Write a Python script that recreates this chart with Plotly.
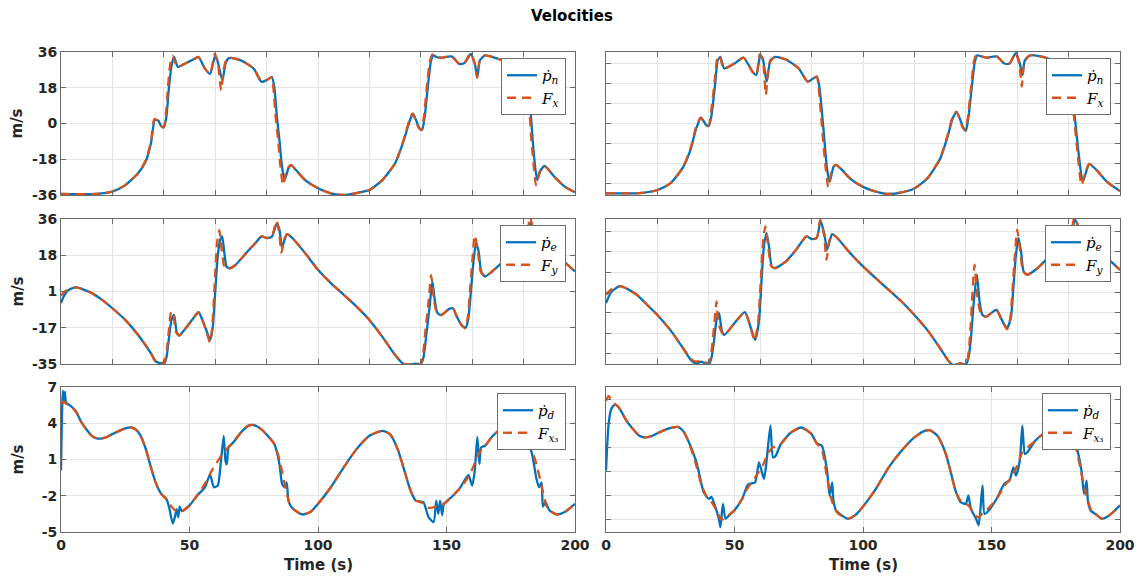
import plotly.graph_objects as go

PAGE_W, PAGE_H = 1143, 579
BODY_MARGIN = 8  # default page body margin around the plot div
W, H = PAGE_W - BODY_MARGIN, PAGE_H - BODY_MARGIN
BLUE = "#0072BD"
ORANGE = "#D95319"
GRID = "#e3e3e3"
AX = "#6a6a6a"
TXT = "#262626"

TIME_TICKS_TOP = 20
TIME_TICKS_BOTTOM = 50
Y_RANGES = [(-36, 36), (-35, 36), (-5, 7)]
Y_TICKVALS_LEFT = [[-36, -18, 0, 18, 36], [-35, -17.25, 0.5, 18.25, 36], [-5, -2, 1, 4, 7]]
Y_TICKTEXT_LEFT = [["-36", "-18", "0", "18", "36"], ["-35", "-17", "1", "18", "36"], ["-5", "-2", "1", "4", "7"]]
Y_DTICK_RIGHT = [10, 10, 2]
LEGEND_NAMES = [("<i>ṗ</i><sub><i>n</i></sub>", "<i>F</i><sub><i>x</i></sub>"),
                ("<i>ṗ</i><sub><i>e</i></sub>", "<i>F</i><sub><i>y</i></sub>"),
                ("<i>ṗ</i><sub><i>d</i></sub>", "<i>F</i><sub><i>x</i>₃</sub>")]

# ---------------- data: (time s, value m/s) ----------------
TL_BLUE = [(0,-35.5),(5,-35.6),(10,-35.6),(15,-35.3),(20,-34.3),(25,-31),(30,-25),(33,-19),(35,-10),(36.5,1.7),(37.8,1.5),(39,-1.3),(40,-2),(41,3.4),(42,18),(43,29),(44,33.5),(45.5,28.5),(48,30),(52,32.6),(53.5,33.5),(56,27.6),(58,25),(60,34.3),(61,31),(62.8,21.8),(64,30),(65,32.6),(66,33),(70,31.8),(75,27.6),(78,21),(80,21.8),(82,23.4),(83,18.4),(84,3.4),(85,-8.4),(86,-21.8),(87,-28.5),(88.5,-22.6),(89.5,-21),(92,-24.3),(95,-28.5),(100,-32.6),(105,-35.2),(110,-36),(115,-35),(120,-33.5),(125,-28.5),(130,-20),(133,-10),(136,2.5),(137,5),(139.5,-2.5),(140.5,-3.3),(141.5,3.4),(143,21.8),(144,31.8),(145,34.3),(146,33.5),(148,33.1),(152,33.8),(155,30),(157,30.5),(159.5,35),(161,30),(162,23.4),(163,31.8),(165,34.3),(170,32.6),(175,30),(179,27),(181,24),(182.4,11.7),(183.5,-8),(184.5,-22),(185.3,-28.5),(186.5,-24),(188.2,-21.4),(192,-26.8),(196,-31.8),(200,-34.6)]
TL_ORANGE = [(0,-35.5),(5,-35.6),(10,-35.6),(15,-35.3),(20,-34.3),(25,-31),(30,-25),(33,-18.5),(35,-9),(36.3,2.2),(37.6,1.5),(39,-1.3),(40,-1.6),(40.8,5),(41.6,18),(42.4,29),(43.4,34),(45.3,28.5),(48,30),(52,32.6),(53.5,33.5),(56,27.6),(58,25),(59.8,35),(61,31),(62.3,16.7),(63.4,28),(64.5,32.6),(66,33),(70,31.8),(75,27.6),(78,21),(80,21.8),(82,23.4),(82.6,18.4),(83.5,3.4),(84.5,-8.4),(85.4,-21.8),(86.4,-31),(88,-22.6),(89.5,-21),(92,-24.3),(95,-28.5),(100,-32.6),(105,-35.2),(110,-36),(115,-35),(120,-33.5),(125,-28.5),(130,-20),(133,-9.5),(135.8,2.5),(136.8,5),(139.3,-2.5),(140.3,-3),(141.2,3.4),(142.6,21.8),(143.6,31.8),(144.6,34.8),(146,33.5),(148,33.1),(152,33.8),(155,30),(157,30.5),(159.3,35.3),(161,30),(161.9,23),(163,31.8),(165,34.3),(170,32.6),(175,30),(179,27),(181,24),(182,11.7),(183,-8),(184,-22),(184.8,-31),(186.3,-24),(188.2,-21.4),(192,-26.8),(196,-31.8),(200,-34.6)]

TR_BLUE = [(0,-35.2),(10,-35.2),(15,-34.8),(20,-33.5),(25,-30.2),(30,-22),(33,-12.8),(35,-2.9),(37,2.9),(39,-0.9),(40,-1.2),(41,3.7),(42.5,20.3),(43.5,31.9),(44.5,33.5),(46,27.7),(50,30.2),(53.5,33.2),(57,26),(58.5,24.4),(60,34.3),(61,32.7),(62.5,21.1),(64,31.9),(66,33.5),(70,32.2),(75,27.7),(78.5,21.1),(82,23.6),(83,18.6),(84.5,-1.2),(86,-22.8),(87,-29.4),(88.5,-22),(89.5,-20.8),(92,-23.6),(95,-27.7),(100,-31.9),(105,-34.3),(110,-35.5),(115,-34.7),(120,-32.7),(125,-27.7),(130,-17.8),(133,-6.2),(135,2.9),(136.5,5.7),(139,-2.1),(140,-3.7),(141,2.9),(142.5,20.3),(143.5,31),(144.5,34.3),(146,33.8),(148,33.2),(152,33.8),(155,30.2),(157,30.2),(159.5,35.5),(161,30.2),(162,24.4),(163,31.9),(165,34.3),(170,33.5),(175,31),(179,27),(181,22),(182,8.7),(184,-16.1),(185.5,-29.4),(187,-23.6),(188,-20.3),(191,-23.6),(195,-29.4),(200,-34)]
TR_ORANGE = [(0,-35.2),(10,-35.2),(15,-34.8),(20,-33.5),(25,-30.2),(30,-22),(33,-12),(35,-2),(36.8,3),(39,-0.9),(40,-1),(40.8,5),(42.2,20.3),(43.2,32),(44.2,34.3),(45.8,27.7),(50,30.2),(53.5,33.2),(57,26),(58.5,24.4),(59.8,34.8),(61,32),(62.2,14.5),(63.5,30),(65.5,33.5),(70,32.2),(75,27.7),(78.5,21.1),(82,23.6),(82.7,18.6),(84,-1.2),(85.5,-22.8),(86.5,-31.9),(88.2,-22),(89.5,-20.8),(92,-23.6),(95,-27.7),(100,-31.9),(105,-34.3),(110,-35.5),(115,-34.7),(120,-32.7),(125,-27.7),(130,-17.5),(133,-5.5),(134.8,3),(136.3,6),(138.8,-2.1),(139.8,-3.5),(140.8,3),(142.2,20.3),(143.2,31.5),(144.2,34.6),(146,33.8),(148,33.2),(152,33.8),(155,30.2),(157,30.2),(159.3,35.5),(160.8,30),(161.8,18.6),(162.8,31),(165,34.3),(170,33.5),(175,31),(179,27),(181,22),(181.7,8.7),(183.6,-16.1),(185,-31),(186.8,-23.6),(188,-20.3),(191,-23.6),(195,-29.4),(200,-34)]

ML_BLUE = [(0,-5.2),(1,-2),(2.5,0.8),(4,1.9),(6,2.5),(8,1.8),(12,-0.3),(16,-3.6),(20,-7.7),(25,-13.4),(30,-20.8),(35,-29.8),(37,-33.9),(38.5,-34.5),(40,-35),(41,-32),(42,-22.4),(43,-13.4),(44,-11),(45,-19.1),(46,-21.1),(48,-18.3),(52,-11.8),(53.5,-9.6),(55,-13.4),(57,-20),(58,-23.2),(59,-17.5),(60,0),(61,18),(62,26),(62.7,27.5),(63.5,20),(64.5,12.5),(66,12),(68,13.6),(72,19.3),(76,24.7),(78,27.5),(80,26.7),(82,27.2),(84,34),(85,30.8),(86,21.8),(87,25.9),(88,28.6),(90,26.7),(95,19.3),(100,11.1),(105,4.6),(110,-1.1),(115,-6.9),(120,-13.4),(125,-21.6),(130,-30.6),(133,-34.7),(135,-35.3),(138,-34.8),(140,-35),(141,-32),(142,-22.4),(143.5,-6),(144.5,5.4),(145.5,-4.4),(146.5,-10.1),(148,-11),(151,-8),(152.5,-7.7),(154,-11.8),(156,-16.2),(157.5,-17.2),(158.5,-12.6),(159.5,0.5),(160.5,15.2),(161.5,24.2),(162.5,20.1),(163.5,10.3),(165,7.9),(170,12.8),(175,18.5),(178,21.5),(181,26),(182.7,34),(184,30),(185,28.3),(187,25),(190,21.8),(195,16),(200,10.3)]
ML_ORANGE = [(0,-1.5),(1,0),(2.5,1.2),(4,2),(6,2.5),(8,1.8),(12,-0.3),(16,-3.6),(20,-7.7),(25,-13.4),(30,-20.8),(35,-29.5),(36.5,-33.5),(38.5,-33.8),(40,-34.5),(41,-30),(42,-18),(42.8,-10),(43.6,-9.3),(44.6,-19),(46,-21.1),(48,-18.3),(52,-11.8),(53.5,-9.6),(55,-13.4),(57,-21),(58,-24.5),(58.8,-17.5),(59.7,2.1),(60.7,24),(61.6,30.5),(62.6,20.1),(63.7,12),(65,11.5),(68,13.6),(72,19.3),(76,24.7),(78,27.5),(80,26.7),(82,27.2),(83.8,35),(84.8,30),(85.8,19.5),(86.8,25.9),(88,28.6),(90,26.7),(95,19.3),(100,11.1),(105,4.6),(110,-1.1),(115,-6.9),(120,-13.4),(125,-21.6),(130,-30.6),(133,-34.7),(135,-35.3),(138,-34.8),(140,-35),(140.8,-31),(141.7,-20),(143.2,-2),(144,8.5),(145.2,-4.4),(146.3,-10.1),(148,-11),(151,-8),(152.5,-7.7),(154,-11.8),(156,-16.2),(157.3,-17.5),(158.3,-12),(159.2,2),(160.2,18),(161,28),(162.2,20.1),(163.3,10.3),(165,7.9),(170,12.8),(175,18.5),(178,21.5),(181,26),(182.5,37),(184,30),(185,28.3),(187,25),(190,21.8),(195,16),(200,10.3)]

MR_BLUE = [(0,-5.2),(2,0.2),(5,3),(6,3),(9,1.3),(12,-1.1),(16,-6),(20,-11),(25,-18.3),(30,-27.3),(33,-33),(35,-34.7),(37,-33.9),(40,-35.2),(41,-32.2),(42,-24),(43,-13.4),(44,-10.1),(45,-18.3),(46,-20.8),(50,-15),(54,-9.6),(56,-15.9),(58,-23.2),(59.5,-14.2),(60.5,5.4),(61.5,23.4),(62.5,29.1),(63.5,21.8),(64.5,12.8),(66,12),(70,15.2),(74,21),(78,27.5),(80,26.2),(82,26.7),(83.5,35.2),(85,28.3),(86,21),(87,25),(88,28.6),(90,26.7),(95,19.3),(100,12.8),(105,7),(110,1.3),(115,-4.4),(120,-11),(125,-18.3),(130,-27.3),(133,-33),(135,-35.5),(138,-34.7),(140,-35.2),(141,-32.2),(142,-22.4),(143,-6),(144.3,8.7),(145.5,-6),(146.5,-11),(148,-11.8),(151,-9),(152,-8.5),(154,-13.4),(156,-17.5),(157.5,-12.6),(158.5,2.1),(159.5,18.5),(160.5,26.7),(161.5,20.1),(162.5,10.3),(164,8.7),(168,12),(172,16.9),(176,20),(180,24),(182.5,35.7),(184,31.6),(186,26.7),(190,21.8),(195,16.9),(200,11.1)]
MR_ORANGE = [(0,-1.1),(2,1.5),(5,3),(6,3),(9,1.3),(12,-1.1),(16,-6),(20,-11),(25,-18.3),(30,-27.3),(33,-32.5),(35,-33.8),(37,-33.3),(39.5,-34.5),(40.5,-33),(41.5,-24),(42.5,-10),(43,-4.4),(43.6,-14),(44.6,-18.3),(46,-20.8),(50,-15),(54,-9.6),(56,-15.9),(57.8,-23.5),(59.2,-14.2),(60.2,5.4),(61.2,26),(62,32.4),(63.2,21.8),(64.3,12.8),(66,12),(70,15.2),(74,21),(78,27.5),(80,26.2),(82,26.7),(83.3,35.5),(84.8,28.3),(85.8,16),(86.8,25),(88,28.6),(90,26.7),(95,19.3),(100,12.8),(105,7),(110,1.3),(115,-4.4),(120,-11),(125,-18.3),(130,-27.3),(133,-33),(135,-35.5),(138,-34.7),(140,-35.2),(140.8,-32),(141.7,-20),(142.6,0),(143.4,13.6),(144.5,-2),(145.5,-9),(146.5,-11.5),(148,-11.8),(151,-9),(152,-8.5),(154,-13.4),(156,-18),(157.3,-12.6),(158.2,2.1),(159.2,20),(160,30.8),(161.2,20.1),(162.3,10.3),(164,8.7),(168,12),(172,16.9),(176,20),(180,24),(182.3,37),(184,31.6),(186,26.7),(190,21.8),(195,16.9),(200,11.1)]

BL_BLUE = [(0,0.1),(0.7,6.7),(1.1,5.7),(1.5,6.6),(2,5.7),(4,5.4),(6,4.9),(8,4.06),(10,3.46),(12,2.96),(14,2.74),(16,2.74),(18,2.88),(20,3.1),(24,3.5),(27,3.65),(29,3.5),(31,2.96),(33,1.86),(35,0.35),(37,-1.0),(39,-1.84),(41,-2.25),(42,-2.9),(43.5,-4.3),(44.3,-3.76),(45,-3.1),(45.6,-3.76),(46.2,-2.9),(47,-3.27),(50,-2.8),(53,-1.98),(56,-1.3),(58,-0.25),(59.5,-1.3),(61,-1.15),(62,0.35),(63.3,2.96),(64,0.9),(64.5,0.6),(65.2,2.0),(67,2.4),(70,3.24),(73,3.8),(75,3.85),(78,3.5),(81,2.83),(83,2.28),(85,0.63),(86,-1.0),(87,-1.3),(87.8,-0.9),(88.5,-2.4),(89.5,-2.9),(91,-3.2),(94,-3.55),(97,-3.35),(100,-2.67),(105,-1.3),(110,0.35),(115,1.86),(120,2.96),(125,3.37),(128,3.1),(131,1.86),(134,-0.2),(136,-1.57),(138,-2.4),(141,-2.53),(143,-3.76),(145,-4.18),(146,-2.4),(146.8,-3.5),(147.5,-2.4),(148.3,-3.6),(149,-2.67),(152,-2.1),(155,-1.43),(158.5,-0.3),(160,-1.15),(161,0.08),(162,2.88),(162.8,0.63),(163.5,2.0),(165,2.14),(168,2.96),(172,3.65),(175,3.9),(178,3.8),(181,2.4),(183,1.7),(185,-0.6),(186,-1.3),(187,-0.9),(187.5,-2.9),(188.5,-2.5),(190,-3.2),(193,-3.55),(196,-3.35),(200,-2.67)]
BL_ORANGE = [(0,5.6),(1,5.8),(2,5.6),(4,5.4),(6,4.9),(8,4.06),(10,3.46),(12,2.96),(14,2.74),(16,2.74),(18,2.88),(20,3.1),(24,3.5),(27,3.65),(29,3.5),(31,2.96),(33,1.86),(35,0.35),(37,-1.0),(39,-1.84),(41,-2.3),(43,-2.9),(45,-3.3),(47,-3.3),(50,-2.8),(53,-1.98),(56,-1.0),(59,0.2),(62,1.2),(65,2.0),(67,2.4),(70,3.24),(73,3.8),(75,3.85),(78,3.5),(81,2.83),(83,2.28),(85,1.0),(87,-1.0),(89,-2.7),(91,-3.2),(94,-3.55),(97,-3.35),(100,-2.67),(105,-1.3),(110,0.35),(115,1.86),(120,2.96),(125,3.37),(128,3.1),(131,1.86),(134,-0.2),(136,-1.57),(138,-2.4),(141,-2.6),(143,-3.0),(146,-2.9),(149,-2.67),(152,-2.1),(155,-1.43),(158,-0.6),(160,0.2),(162,1.2),(164,2.0),(165,2.14),(168,2.96),(172,3.65),(175,3.9),(178,3.8),(181,2.4),(183,1.9),(185,0.6),(187,-1.2),(189,-2.9),(190,-3.2),(193,-3.55),(196,-3.35),(200,-2.67)]

BR_BLUE = [(0,0.08),(0.5,2.3),(1,3.9),(2,5.16),(3.5,5.57),(5,5.3),(8,4.2),(10,3.65),(13,2.96),(15,2.83),(18,2.96),(22,3.37),(26,3.65),(28,3.7),(30,3.37),(32,2.55),(35,0.9),(36,0.08),(38,-1.7),(40,-2.25),(41,-2.1),(42.5,-2.9),(44,-4.0),(44.5,-4.6),(45.5,-2.67),(46.5,-3.9),(48,-3.6),(50,-3.2),(53,-2.25),(55,-1.15),(56,-1.0),(58,-0.9),(59.5,0.77),(60.5,0.08),(61.5,-0.6),(62.5,0.9),(63,2.0),(64,3.8),(65,1.18),(66,1.3),(68,2.28),(72,3.24),(76,3.65),(80,3.1),(82,2.33),(84,2.14),(86,0.08),(87,-1.98),(88,-0.9),(88.5,-2.4),(89.5,-3.2),(91,-3.5),(94,-3.9),(97,-3.6),(100,-2.9),(105,-1.43),(110,0.35),(115,1.73),(120,2.83),(124,3.37),(126,3.43),(129,2.96),(132,1.6),(134,0.08),(136,-1.57),(138,-2.53),(140,-2.67),(141,-1.98),(142,-3.1),(144,-3.9),(145,-4.45),(146.5,-1.15),(147.3,-3.5),(149,-3.2),(152,-2.25),(155,-1.0),(157,-0.74),(158.5,0.35),(159.5,-0.33),(161,0.9),(162,3.8),(163,1.45),(164,1.6),(167,2.55),(170,3.1),(175,3.6),(178,3.5),(181,2.4),(183,2.0),(185,0.08),(186,-1.84),(187,-0.74),(187.5,-2.4),(188.5,-3.2),(191,-3.6),(193,-3.9),(196,-3.6),(200,-2.8)]
BR_ORANGE = [(0,5.85),(1,6.26),(2.5,5.8),(4,5.5),(5,5.3),(8,4.2),(10,3.65),(13,2.96),(15,2.83),(18,2.96),(22,3.37),(26,3.65),(28,3.7),(30,3.37),(32,2.55),(35,0.6),(37,-1.0),(39,-2.0),(41,-2.5),(43,-3.2),(45,-4.0),(47,-3.7),(50,-3.2),(53,-2.25),(55,-1.4),(58,-0.5),(61,0.5),(63,1.5),(65,2.0),(68,2.28),(72,3.24),(76,3.65),(80,3.1),(82,2.33),(84,1.8),(86,-0.5),(88,-2.5),(90,-3.4),(94,-3.9),(97,-3.6),(100,-2.9),(105,-1.43),(110,0.35),(115,1.73),(120,2.83),(124,3.37),(126,3.43),(129,2.96),(132,1.6),(134,0.08),(136,-1.57),(138,-2.4),(141,-2.8),(143,-3.4),(145,-3.8),(147,-3.3),(149,-3.0),(152,-2.25),(155,-1.2),(158,-0.4),(160,0.5),(162,1.6),(164,2.0),(167,2.55),(170,3.1),(175,3.6),(178,3.5),(181,2.4),(183,1.8),(185,-0.2),(187,-2.0),(189,-3.3),(191,-3.6),(193,-3.9),(196,-3.6),(200,-2.8)]

PANELS = [  # (row, col, blue, orange)
    (0, 0, TL_BLUE, TL_ORANGE), (0, 1, TR_BLUE, TR_ORANGE),
    (1, 0, ML_BLUE, ML_ORANGE), (1, 1, MR_BLUE, MR_ORANGE),
    (2, 0, BL_BLUE, BL_ORANGE), (2, 1, BR_BLUE, BR_ORANGE),
]

# ---------------- layout geometry (page pixels) ----------------
COL_PX = [(61, 575), (606, 1120)]
ROW_PX = [(52, 195), (219, 364), (387, 532)]

def px_x(p):
    return (p - BODY_MARGIN) / W

def px_y(p):
    return 1 - (p - BODY_MARGIN) / H

fig = go.Figure()
layout = dict(
    width=W, height=H, autosize=False,
    margin=dict(l=0, r=0, t=0, b=0, pad=0, autoexpand=False),
    paper_bgcolor="white", plot_bgcolor="white",
    font=dict(family="DejaVu Sans", size=14, color=TXT),
    annotations=[], showlegend=True,
)

tick_font = dict(family="DejaVu Sans", size=14, color=TXT, weight="bold")

for i, (row, col, blue, orange) in enumerate(PANELS, start=1):
    s = "" if i == 1 else str(i)
    x0, x1 = COL_PX[col]
    y0, y1 = ROW_PX[row]
    leg = "legend" if i == 1 else f"legend{i}"
    nb, no = LEGEND_NAMES[row]
    fig.add_trace(go.Scatter(
        x=[p[0] for p in blue], y=[p[1] for p in blue], name=nb, mode="lines",
        line=dict(color=BLUE, width=2.3, shape="spline", smoothing=0.6),
        xaxis=f"x{s}", yaxis=f"y{s}", legend=leg))
    fig.add_trace(go.Scatter(
        x=[p[0] for p in orange], y=[p[1] for p in orange], name=no, mode="lines",
        line=dict(color=ORANGE, width=2.3, dash="9px,6px", shape="spline", smoothing=0.6),
        xaxis=f"x{s}", yaxis=f"y{s}", legend=leg))

    common = dict(showline=True, linecolor=AX, linewidth=1, mirror="ticks",
                  ticks="inside", ticklen=5, tickcolor=AX, tickwidth=1,
                  showgrid=True, gridcolor=GRID, gridwidth=1, zeroline=False,
                  tickfont=tick_font, automargin=False)
    xa = dict(common, domain=[px_x(x0), px_x(x1)], anchor=f"y{s}", range=[0, 200],
              tick0=0, dtick=TIME_TICKS_BOTTOM if row == 2 else TIME_TICKS_TOP,
              showticklabels=(row == 2))
    ya = dict(common, domain=[px_y(y1), px_y(y0)], anchor=f"x{s}", range=list(Y_RANGES[row]))
    if col == 0:
        ya.update(tickmode="array", tickvals=Y_TICKVALS_LEFT[row], ticktext=Y_TICKTEXT_LEFT[row])
    else:
        ya.update(tick0=0, dtick=Y_DTICK_RIGHT[row], showticklabels=False)
    layout[f"xaxis{s}"] = xa
    layout[f"yaxis{s}"] = ya

    layout[leg] = dict(
        x=px_x(x1 - 9), y=px_y(y0 + 6), xanchor="right", yanchor="top",
        xref="paper", yref="paper",
        bgcolor="white", bordercolor="#6e6e6e", borderwidth=1,
        font=dict(family="DejaVu Serif", size=15, color="black"),
        tracegroupgap=0, itemwidth=30)

    if col == 0:
        layout["annotations"].append(dict(
            text="m/s", x=px_x(17), y=px_y((y0 + y1) / 2), xref="paper", yref="paper",
            showarrow=False, textangle=-90, xanchor="center", yanchor="middle",
            font=dict(family="DejaVu Sans", size=15, color=TXT, weight="bold")))
    if row == 2:
        layout["annotations"].append(dict(
            text="Time (s)", x=px_x((x0 + x1) / 2), y=px_y(565), xref="paper", yref="paper",
            showarrow=False, xanchor="center", yanchor="middle",
            font=dict(family="DejaVu Sans", size=15, color=TXT, weight="bold")))

layout["annotations"].append(dict(
    text="Velocities", x=px_x(PAGE_W / 2), y=px_y(16), xref="paper", yref="paper",
    showarrow=False, xanchor="center", yanchor="middle",
    font=dict(family="DejaVu Sans", size=15, color="black", weight="bold")))

fig.update_layout(**layout)
fig.write_html("out.html")
